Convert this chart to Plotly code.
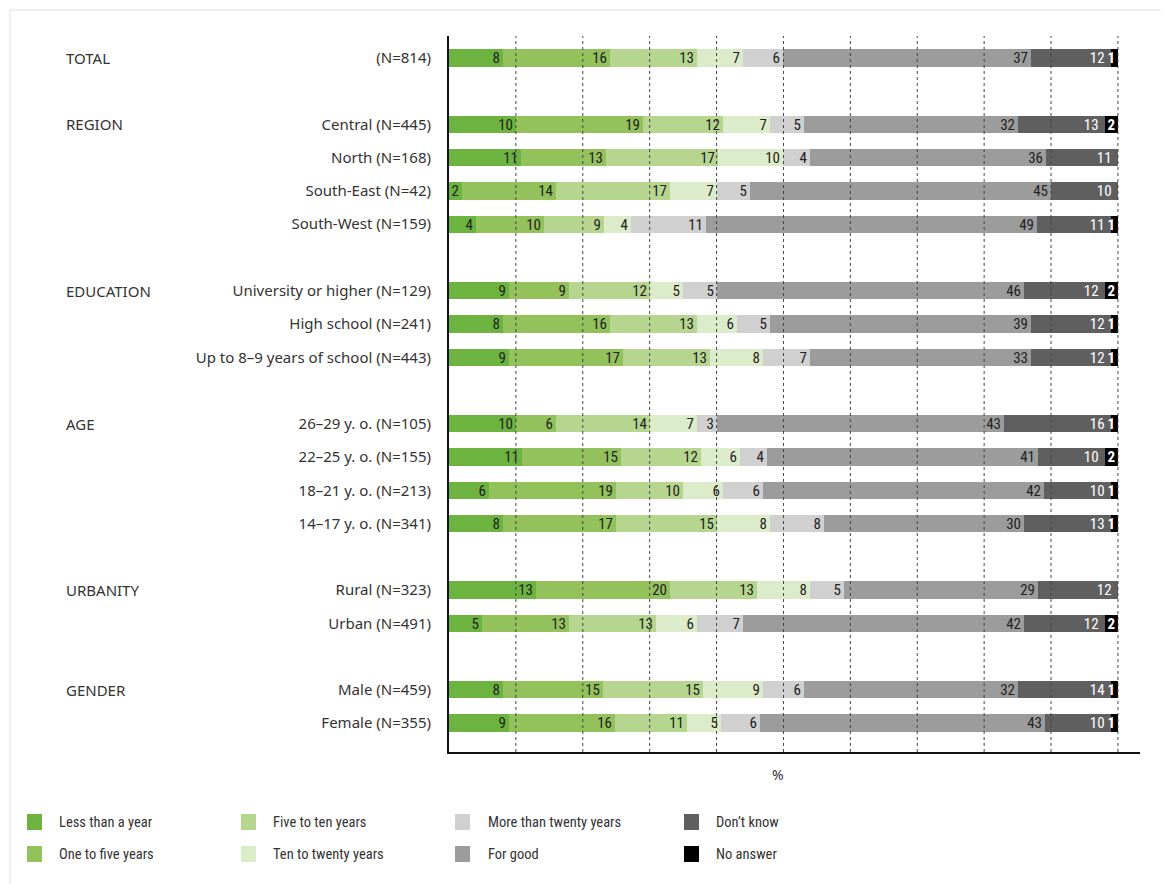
import plotly.graph_objects as go

# ---------------- data ----------------
row_labels = ["(N=814)", "",
              "Central (N=445)", "North (N=168)", "South-East (N=42)", "South-West (N=159)", "",
              "University or higher (N=129)", "High school (N=241)", "Up to 8\u20139 years of school (N=443)", "",
              "26\u201329 y. o. (N=105)", "22\u201325 y. o. (N=155)", "18\u201321 y. o. (N=213)", "14\u201317 y. o. (N=341)", "",
              "Rural (N=323)", "Urban (N=491)", "",
              "Male (N=459)", "Female (N=355)"]

group_labels = ["TOTAL", "REGION", "EDUCATION", "AGE", "URBANITY", "GENDER"]
group_rows = [0, 2, 7, 11, 16, 19]

series_names = ["Less than a year", "One to five years", "Five to ten years", "Ten to twenty years",
                "More than twenty years", "For good", "Don\u2019t know", "No answer"]

# values per row (None for blank spacer rows)
less_than_year = [8, None, 10, 11, 2, 4, None, 9, 8, 9, None, 10, 11, 6, 8, None, 13, 5, None, 8, 9]
one_to_five    = [16, None, 19, 13, 14, 10, None, 9, 16, 17, None, 6, 15, 19, 17, None, 20, 13, None, 15, 16]
five_to_ten    = [13, None, 12, 17, 17, 9, None, 12, 13, 13, None, 14, 12, 10, 15, None, 13, 13, None, 15, 11]
ten_to_twenty  = [7, None, 7, 10, 7, 4, None, 5, 6, 8, None, 7, 6, 6, 8, None, 8, 6, None, 9, 5]
more_than_20   = [6, None, 5, 4, 5, 11, None, 5, 5, 7, None, 3, 4, 6, 8, None, 5, 7, None, 6, 6]
for_good       = [37, None, 32, 36, 45, 49, None, 46, 39, 33, None, 43, 41, 42, 30, None, 29, 42, None, 32, 43]
dont_know      = [12, None, 13, 11, 10, 11, None, 12, 12, 12, None, 16, 10, 10, 13, None, 12, 12, None, 14, 10]
no_answer      = [1, None, 2, 0, 0, 1, None, 2, 1, 1, None, 1, 2, 1, 1, None, 0, 2, None, 1, 1]

series_values = [less_than_year, one_to_five, five_to_ten, ten_to_twenty,
                 more_than_20, for_good, dont_know, no_answer]

colors = ["#6cb33f", "#93c15b", "#b6d68f", "#dcebc9", "#d0d0d0", "#9c9c9c", "#5f5f5f", "#000000"]
text_colors = ["#222222"] * 6 + ["#ffffff", "#ffffff"]
text_weights = ["normal"] * 7 + ["bold"]
text_pad = [""] * 6 + ["\u00a0", ""]
x_ticks = [10, 20, 30, 40, 50, 60, 70, 80, 90, 100]

NARROW = "Liberation Sans Narrow, Roboto Condensed, Arial Narrow, sans-serif"
SANS = "Noto Sans, Open Sans, sans-serif"

# ---------------- layout geometry (page pixel targets) ----------------
OFF = 8                      # page body margin
W, H = 1169, 884
L = 449 - OFF
T = 36 - OFF
R = W - (1140 - OFF)
B = H - (752 - OFF)
PW, PH = W - L - R, H - T - B


def px_x(px):
    return (px - OFF - L) / PW


def px_y(py):
    return (H - B - (py - OFF)) / PH


rows = list(range(len(row_labels)))
row_sums = []
for i in rows:
    s = sum((sv[i] or 0) for sv in series_values)
    row_sums.append(s if s else None)

fig = go.Figure()
for name, vals, col, tcol, tw, pad in zip(series_names, series_values, colors,
                                          text_colors, text_weights, text_pad):
    xs, ys, txt = [], [], []
    for i in rows:
        v = vals[i]
        if v is None or not row_sums[i]:
            continue
        xs.append(v / row_sums[i] * 100)
        ys.append(i)
        txt.append(str(v) + pad if v > 0 else "")
    fig.add_trace(go.Bar(
        x=xs, y=ys, orientation="h", name=name, width=0.52,
        marker=dict(color=col, line=dict(width=0)),
        text=txt, textposition="inside", insidetextanchor="end",
        textangle=0,
        textfont=dict(family=NARROW, size=15, color=tcol, weight=tw),
        showlegend=False, hoverinfo="skip",
    ))

fig.update_layout(
    width=W, height=H,
    margin=dict(l=L, r=R, t=T, b=B, autoexpand=False),
    barmode="stack", bargap=0,
    paper_bgcolor="white", plot_bgcolor="white",
    uniformtext=dict(minsize=15, mode="show"),
    font=dict(family=SANS, size=15, color="#333333"),
    xaxis=dict(range=[0, 103.3], showgrid=False, zeroline=False, showticklabels=False,
               showline=True, linecolor="#111111", linewidth=2, ticks=""),
    yaxis=dict(range=[20.87, -0.66], tickmode="array", tickvals=rows, ticktext=row_labels,
               showgrid=False, zeroline=False, showline=True, linecolor="#111111", linewidth=2,
               ticks="", ticklabelstandoff=13,
               tickfont=dict(size=15, color="#333333")),
)

shapes = []
# dotted vertical grid lines on top of bars
for xv in x_ticks:
    shapes.append(dict(type="line", xref="x", yref="paper", x0=xv, x1=xv, y0=0, y1=1,
                       line=dict(color="#444444", width=1, dash="dot"), layer="above"))

annotations = []
# axis unit label
annotations.append(dict(text="%", xref="paper", yref="paper", x=px_x(778), y=px_y(774),
                        xanchor="center", yanchor="middle", showarrow=False,
                        font=dict(size=14, color="#333333")))

# group labels
for g, r in zip(group_labels, group_rows):
    annotations.append(dict(text=g, xref="paper", yref="y", x=px_x(64), y=r,
                            xanchor="left", yanchor="middle", showarrow=False,
                            font=dict(size=15, color="#333333")))

# manual legend (4 columns x 2 rows, column-major)
leg_sq_x = [27, 241, 455, 684]
leg_tx_x = [57, 271, 486, 714]
leg_row_y = [822, 854]
for k, (name, col) in enumerate(zip(series_names, colors)):
    c, r = k // 2, k % 2
    cy = leg_row_y[r]
    shapes.append(dict(type="rect", xref="paper", yref="paper",
                       x0=px_x(leg_sq_x[c]), x1=px_x(leg_sq_x[c] + 15),
                       y0=px_y(cy + 8), y1=px_y(cy - 8),
                       fillcolor=col, line=dict(width=0)))
    annotations.append(dict(text=name, xref="paper", yref="paper",
                            x=px_x(leg_tx_x[c]), y=px_y(cy), xanchor="left", yanchor="middle",
                            showarrow=False,
                            font=dict(family=NARROW, size=14.5, color="#333333")))

# faint outer frame
shapes.append(dict(type="rect", xref="paper", yref="paper",
                   x0=px_x(10), x1=px_x(W + 20), y0=px_y(H + 20), y1=px_y(10),
                   line=dict(color="#dddddd", width=1), fillcolor="rgba(0,0,0,0)", layer="below"))

fig.update_layout(shapes=shapes, annotations=annotations)
fig.write_html("out.html")
